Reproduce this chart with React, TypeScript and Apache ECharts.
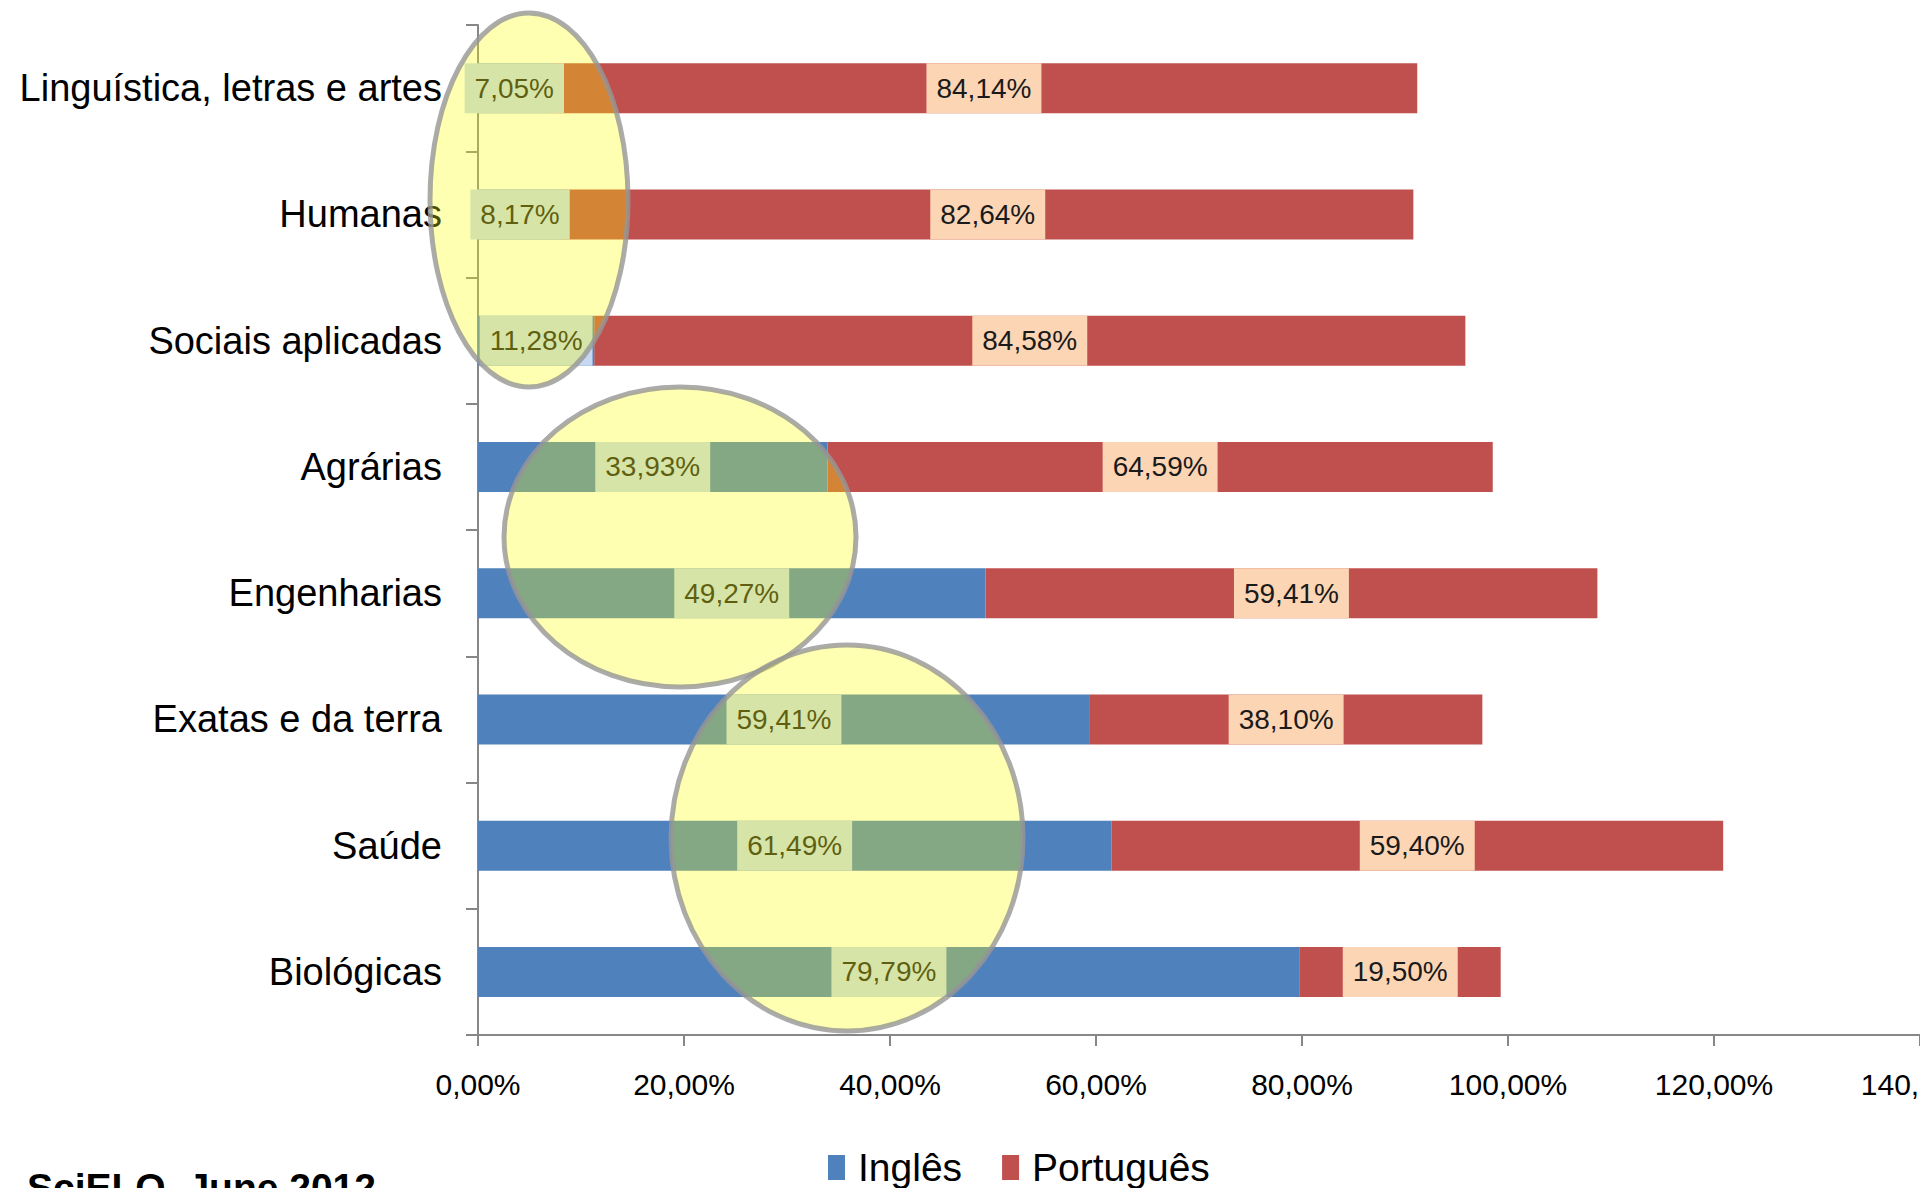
import React, { useEffect, useRef } from "react";
import * as echarts from "echarts";

const categories = [
  "Linguística, letras e artes",
  "Humanas",
  "Sociais aplicadas",
  "Agrárias",
  "Engenharias",
  "Exatas e da terra",
  "Saúde",
  "Biológicas",
];
const ingles = [7.05, 8.17, 11.28, 33.93, 49.27, 59.41, 61.49, 79.79];
const portugues = [84.14, 82.64, 84.58, 64.59, 59.41, 38.1, 59.4, 19.5];
const seriesNames = ["Inglês", "Português"];
const xMin = 0;
const xMax = 140;
const xInterval = 20;
const footnote = "SciELO, June 2012";

const SANS = '"Liberation Sans", Arial, sans-serif';

const pct = (v: number) => v.toFixed(2).replace(".", ",") + "%";

export default function App() {
  const ref = useRef<HTMLDivElement>(null);
  useEffect(() => {
    if (!ref.current) return;
    const chart = echarts.init(ref.current, undefined, { renderer: "svg" });
    const labelBase = {
      show: true,
      position: "inside",
      fontFamily: SANS,
      fontSize: 28,
      lineHeight: 30,
      color: "#1a1a1a",
      padding: [10, 10],
      formatter: (p: any) => pct(p.value),
    };
    chart.setOption({
      animation: false,
      backgroundColor: "#ffffff",
      grid: {
        left: 478,
        right: 0,
        top: 25,
        bottom: 153,
        containLabel: false,
        outerBoundsMode: "none",
      },
      legend: {
        data: seriesNames,
        left: 828,
        top: 1148,
        itemWidth: 17,
        itemHeight: 25,
        itemGap: 40,
        icon: "rect",
        padding: 0,
        textStyle: {
          fontFamily: SANS,
          fontSize: 39,
          color: "#000",
          padding: [0, 0, 0, 8],
        },
      },
      xAxis: {
        type: "value",
        min: xMin,
        max: xMax,
        interval: xInterval,
        splitLine: { show: false },
        axisLine: { show: true, lineStyle: { color: "#878787", width: 2 } },
        axisTick: { show: true, length: 11, lineStyle: { color: "#878787", width: 2 } },
        axisLabel: {
          showMaxLabel: true,
          hideOverlap: false,
          margin: 34,
          fontFamily: SANS,
          fontSize: 30,
          color: "#000",
          formatter: (v: number) => pct(v),
        },
      },
      yAxis: {
        type: "category",
        data: categories,
        inverse: true,
        axisLine: { show: true, lineStyle: { color: "#878787", width: 2 } },
        axisTick: { show: true, length: 12, lineStyle: { color: "#878787", width: 2 } },
        axisLabel: {
          margin: 36,
          fontFamily: SANS,
          fontSize: 38,
          color: "#000",
        },
      },
      series: [
        {
          name: seriesNames[0],
          type: "bar",
          stack: "total",
          data: ingles,
          barWidth: 50,
          z: 3,
          itemStyle: { color: "#4F81BD" },
          label: { ...labelBase, backgroundColor: "#C6D9F1" },
        },
        {
          name: seriesNames[1],
          type: "bar",
          stack: "total",
          data: portugues,
          barWidth: 50,
          z: 2,
          itemStyle: { color: "#C0504D" },
          label: { ...labelBase, backgroundColor: "#FCD5B5" },
        },
      ],
      graphic: [
        {
          type: "ellipse",
          z: 100,
          shape: { cx: 529, cy: 200, rx: 99, ry: 187 },
          style: { fill: "rgba(255,255,0,0.3)", stroke: "rgba(150,150,150,0.8)", lineWidth: 5 },
        },
        {
          type: "ellipse",
          z: 100,
          shape: { cx: 680, cy: 537, rx: 176, ry: 150 },
          style: { fill: "rgba(255,255,0,0.3)", stroke: "rgba(150,150,150,0.8)", lineWidth: 5 },
        },
        {
          type: "ellipse",
          z: 101,
          shape: { cx: 847, cy: 838, rx: 176, ry: 193 },
          style: { fill: "rgba(255,255,0,0.3)", stroke: "rgba(150,150,150,0.8)", lineWidth: 5 },
        },
        {
          type: "text",
          z: 100,
          x: 27,
          y: 1168,
          style: {
            text: footnote,
            fontFamily: SANS,
            fontWeight: "bold",
            fontSize: 39,
            fill: "#000",
            verticalAlign: "top",
          },
        },
      ],
    });
    return () => chart.dispose();
  }, []);
  return (
    <div
      ref={ref}
      style={{ position: "absolute", left: 0, top: 0, width: 1920, height: 1188 }}
    />
  );
}
